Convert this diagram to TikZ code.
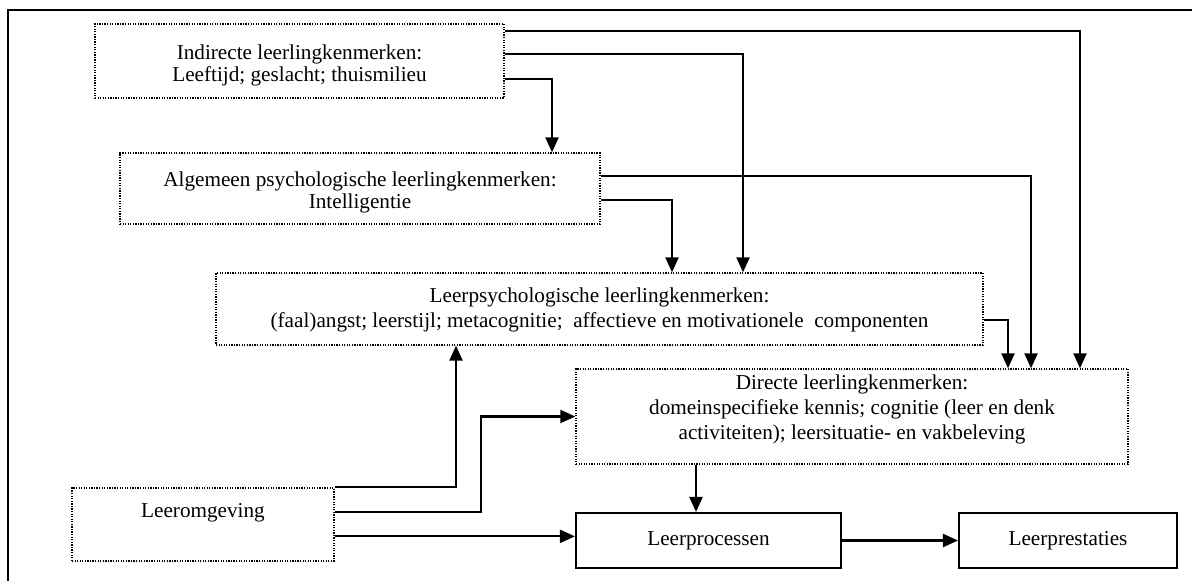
\documentclass[tikz,border=0pt]{standalone}
\usepackage{fontspec}
\setmainfont{Liberation Serif}
\usetikzlibrary{positioning, arrows.meta, calc}

\newlength\pxu
\setlength\pxu{0.566pt}

\begin{document}
\begin{tikzpicture}[
  x=\pxu, y=-\pxu,
  % Node Styles
  dotbox/.style={rectangle, draw, line width=0.75pt, dash pattern=on 0.7pt off 0.75pt, align=center, inner sep=0pt, font=\fontsize{12}{14}\selectfont},
  solidbox/.style={rectangle, draw, line width=1.2pt, align=center, inner sep=0pt, font=\fontsize{12}{14}\selectfont},
  tightlines/.style={font=\fontsize{12}{10.8}\selectfont},
  % Arrow Styles
  arr/.style={-{Triangle[length=8.5pt, width=7.4pt]}, line width=1.2pt, black},
  frameline/.style={line width=1.3pt, black}
]
\useasboundingbox (0,0) rectangle (1192,580);
\clip (0,0) rectangle (1192,580);

% outer frame (runs off the right and bottom)
\draw[frameline] (8,600) -- (8,10) -- (1210,10);

% boxes
\node[dotbox, tightlines, minimum width=409\pxu, text height=57\pxu, text depth=17\pxu] (ind) at (299.5,61)
  {Indirecte leerlingkenmerken:\\Leeftijd; geslacht; thuismilieu};
\node[dotbox, tightlines, minimum width=480\pxu, text height=55\pxu, text depth=16\pxu] (alg) at (360,188.5)
  {Algemeen psychologische leerlingkenmerken:\\Intelligentie};
\node[dotbox, minimum width=767\pxu, text height=54\pxu, text depth=18\pxu] (lps) at (599.5,309)
  {Leerpsychologische leerlingkenmerken:\\(faal)angst; leerstijl; metacognitie;\ \ affectieve en motivationele\ \ componenten};
\node[dotbox, minimum width=552\pxu, text height=70\pxu, text depth=25\pxu] (dir) at (852,416.5)
  {Directe leerlingkenmerken:\\domeinspecifieke kennis; cognitie (leer en denk\\activiteiten); leersituatie- en vakbeleving};
\node[dotbox, minimum width=262\pxu, text height=29\pxu, text depth=44\pxu] (omg) at (203,524.5) {Leeromgeving};
\node[solidbox, minimum width=265\pxu, minimum height=55\pxu] (proc) at (708.5,540.5) {Leerprocessen};
\node[solidbox, minimum width=218\pxu, minimum height=55\pxu] (prest) at (1068,540.5) {Leerprestaties};

% connectors from the top boxes
\draw[arr] ([yshift=-8\pxu]ind.north east) -| ([xshift=228\pxu]dir.north);
\draw[arr] ([yshift=-31\pxu]ind.north east) -| ([xshift=143.5\pxu]lps.north);
\draw[arr] ([yshift=-56\pxu]ind.north east) -| ([xshift=192\pxu]alg.north);
\draw[arr] ([yshift=-24\pxu]alg.north east) -| ([xshift=179\pxu]dir.north);
\draw[arr] ([yshift=-48\pxu]alg.north east) -| ([xshift=72.5\pxu]lps.north);
\draw[arr] ([yshift=-48\pxu]lps.north east) -| ([xshift=156\pxu]dir.north);

% connectors from Leeromgeving
\coordinate (omgout) at ([yshift=-49\pxu]omg.north east);
\draw[arr] (omg.north east) -| ([xshift=-143.5\pxu]lps.south);
\draw[arr] ([yshift=-25\pxu]omg.north east) -- ++(146,0) |- (dir.west);
\draw[arr] (omgout) -- (omgout -| proc.west);

% towards the outcome
\draw[arr] ([xshift=-156\pxu]dir.south) -- ([xshift=-12.5\pxu]proc.north);
\draw[arr] (proc.east) -- (prest.west);

\end{tikzpicture}
\end{document}
